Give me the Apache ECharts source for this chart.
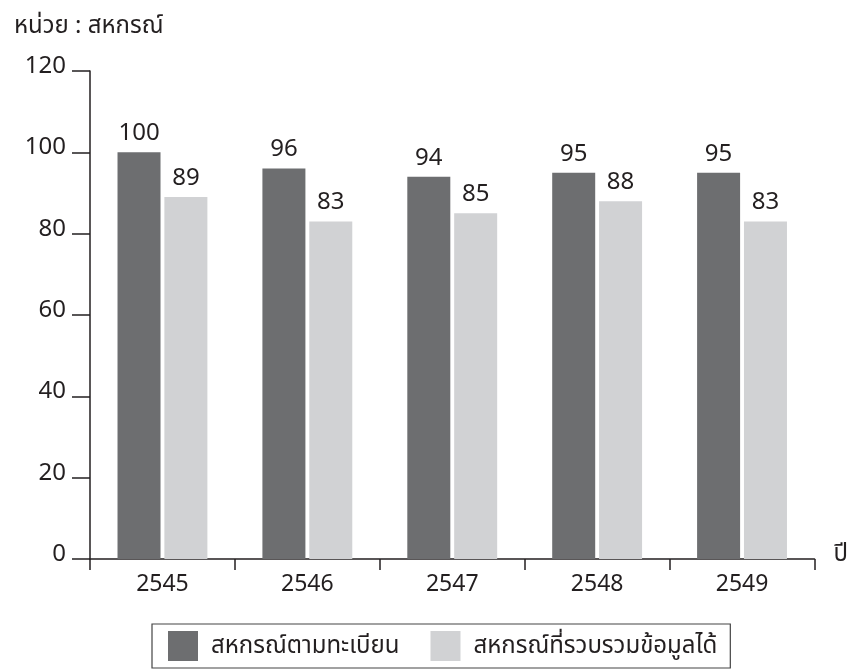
<!DOCTYPE html>
<html>
<head>
<meta charset="utf-8">
<script src="https://cdn.jsdelivr.net/npm/echarts@6/dist/echarts.min.js"></script>
<style>
html,body{margin:0;padding:0;background:#fff;}
#c{width:851px;height:671px;}
</style>
</head>
<body>
<div id="c"></div>
<script>
var unitLabel = 'หน่วย : สหกรณ์';
var xName = 'ปี';
var years = ['2545', '2546', '2547', '2548', '2549'];
var registered = [100, 96, 94, 95, 95];
var collected = [89, 83, 85, 88, 83];
var seriesNames = ['สหกรณ์ตามทะเบียน', 'สหกรณ์ที่รวบรวมข้อมูลได้'];

var FONT = '"Noto Sans", "Noto Sans Thai", sans-serif';
var INK = '#231f20';

var chart = echarts.init(document.getElementById('c'));
chart.setOption({
  animation: false,
  backgroundColor: '#fff',
  textStyle: { fontFamily: FONT },
  title: {
    text: unitLabel, left: 9, top: 9,
    textStyle: { fontSize: 24, fontWeight: 'normal', color: INK, fontFamily: FONT }
  },
  legend: {
    left: 152, top: 624,
    data: seriesNames,
    itemWidth: 30, itemHeight: 30, itemGap: 31,
    padding: [7, 13, 7, 16],
    borderColor: '#444', borderWidth: 1.2, borderRadius: 0,
    icon: 'rect',
    textStyle: { fontSize: 24, color: INK, fontFamily: FONT, padding: [0, 0, 0, 8] }
  },
  grid: { left: 90, top: 71, right: 35, bottom: 112, containLabel: false },
  xAxis: {
    type: 'category', data: years,
    name: xName, nameLocation: 'end', nameGap: 19,
    nameTextStyle: { fontSize: 24, color: INK, fontFamily: FONT, verticalAlign: 'bottom', lineHeight: 9 },
    axisLine: { lineStyle: { color: INK, width: 1.5 } },
    axisTick: { show: true, inside: false, length: 11, lineStyle: { color: INK, width: 1.5 } },
    axisLabel: { fontSize: 23, color: INK, margin: 14, fontFamily: FONT }
  },
  yAxis: {
    type: 'value', min: 0, max: 120, interval: 20,
    axisLine: { show: true, lineStyle: { color: INK, width: 1.5 } },
    axisTick: { show: true, inside: false, length: 18, lineStyle: { color: INK, width: 1.5 } },
    axisLabel: { fontSize: 24, color: INK, margin: 24, fontFamily: FONT, verticalAlign: 'bottom', lineHeight: 10 },
    splitLine: { show: false }
  },
  series: [
    {
      name: seriesNames[0], type: 'bar', data: registered,
      barWidth: 43, barGap: '9%',
      itemStyle: { color: '#6d6e70' },
      label: { show: true, position: 'top', distance: 7, fontSize: 24, color: INK, fontFamily: FONT }
    },
    {
      name: seriesNames[1], type: 'bar', data: collected,
      barWidth: 43,
      itemStyle: { color: '#d1d2d4' },
      label: { show: true, position: 'top', distance: 7, fontSize: 24, color: INK, fontFamily: FONT }
    }
  ]
});
</script>
</body>
</html>
